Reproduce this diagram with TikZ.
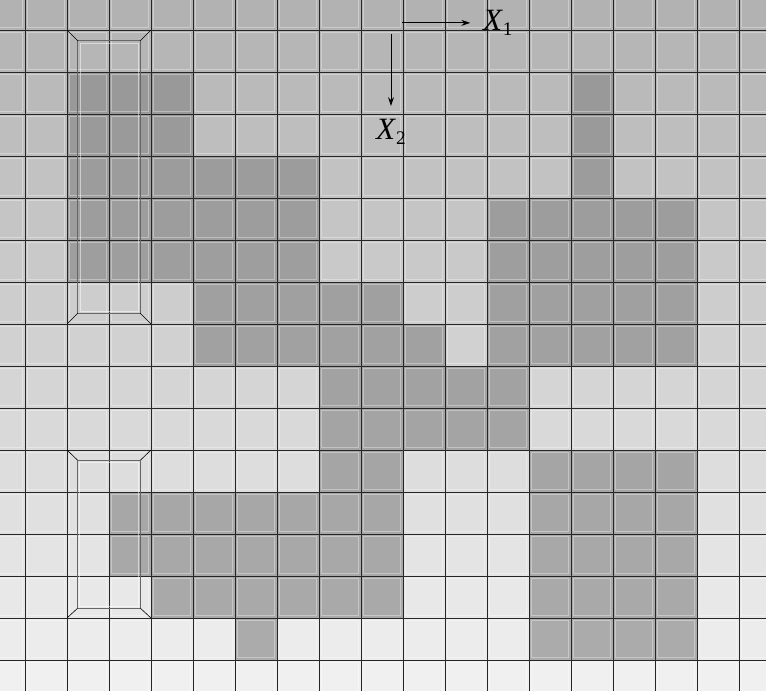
\documentclass[tikz,border=0pt]{standalone}
\usepackage{fontspec}
\setmainfont{Liberation Serif}
\usepackage{tikz}
\usetikzlibrary{arrows.meta}

\newcommand{\axlabel}[2]{\textit{#1}\raisebox{-3.5pt}{\fontsize{13}{13}\selectfont #2}}

\begin{document}
\begin{tikzpicture}[x=1cm, y=-1cm,
      >={Stealth[length=6pt, width=4pt, inset=2pt]},
      gridline/.style={draw=black!85, line width=0.6pt},
      bevel/.style={draw=white, opacity=0.35, line width=0.5pt},
      frameline/.style={draw=black!60, line width=0.7pt},
      axislabel/.style={font=\fontsize{21}{24}\selectfont, inner sep=8.5pt}]
    % --- page ---
    \useasboundingbox (-0.595,-0.714) rectangle (17.643,15.738);
    \clip (-0.595,-0.714) rectangle (17.643,15.738);

    % --- light cells, lighter towards the bottom ---
    \foreach \j in {-1,...,15}{
      \pgfmathsetmacro{\lv}{(178+62*(\j+1)/16)/255}
      \definecolor{lightcell}{gray}{\lv}
      \foreach \i in {-1,...,17}
        \fill[lightcell] (\i,\j) rectangle ++(1,1);
    }

    % --- dark cells (row / columns) ---
    \foreach \j/\cols in {1/{1,2,3,13}, 2/{1,2,3,13}, 3/{1,2,3,4,5,6,13},
        4/{1,2,3,4,5,6,11,12,13,14,15}, 5/{1,2,3,4,5,6,11,12,13,14,15},
        6/{4,5,6,7,8,11,12,13,14,15}, 7/{4,5,6,7,8,9,11,12,13,14,15},
        8/{7,8,9,10,11}, 9/{7,8,9,10,11}, 10/{7,8,12,13,14,15},
        11/{2,3,4,5,6,7,8,12,13,14,15}, 12/{2,3,4,5,6,7,8,12,13,14,15},
        13/{3,4,5,6,7,8,12,13,14,15}, 14/{5,12,13,14,15}}{
      \pgfmathsetmacro{\dv}{(150+22*(\j+1)/16)/255}
      \definecolor{darkcell}{gray}{\dv}
      \foreach \i in \cols
        \fill[darkcell] (\i,\j) rectangle ++(1,1);
    }

    % --- highlight inside every cell ---
    \foreach \j in {-1,...,15}
      \foreach \i in {-1,...,17}
        \draw[bevel, shift={(\i,\j)}] (0.06,0.06) rectangle (0.94,0.94);

    % --- grid ---
    \foreach \i in {0,...,17}
      \draw[gridline] (\i,-0.714) -- (\i,15.738);
    \foreach \j in {0,...,15}
      \draw[gridline] (-0.595,\j) -- (17.643,\j);

    % --- upper frame ---
    \draw[frameline] (1.26,0.26) rectangle (2.74,6.74);
    \draw[white, opacity=0.5] (1.31,0.31) rectangle (2.69,6.69);
    \draw (1,0) -- (1.26,0.26);        % corners
    \draw (3,0) -- (2.74,0.26);
    \draw (1,7) -- (1.26,6.74);
    \draw (3,7) -- (2.74,6.74);

    % --- lower frame ---
    \draw[frameline] (1.25,10.24) rectangle (2.75,13.77);
    \draw[white, opacity=0.5] (1.30,10.29) rectangle (2.70,13.72);
    \draw (1,10) -- (1.25,10.24);
    \draw (3,10) -- (2.75,10.24);
    \draw (1,14) -- (1.25,13.77);
    \draw (3,14) -- (2.75,13.77);

    % --- axes ---
    \coordinate (xorigin) at (8.98,-0.17);
    \node[axislabel, right] (xone) at (10.6,-0.17) {\axlabel{X}{1}};
    \draw[->, line width=0.6pt] (xorigin) -- (xone);

    \coordinate (yorigin) at (8.714,0.095);
    \node[axislabel, below] (xtwo) at (8.714,1.81) {\axlabel{X}{2}};
    \draw[->, line width=0.6pt] (yorigin) -- (xtwo);
  \end{tikzpicture}
\end{document}
